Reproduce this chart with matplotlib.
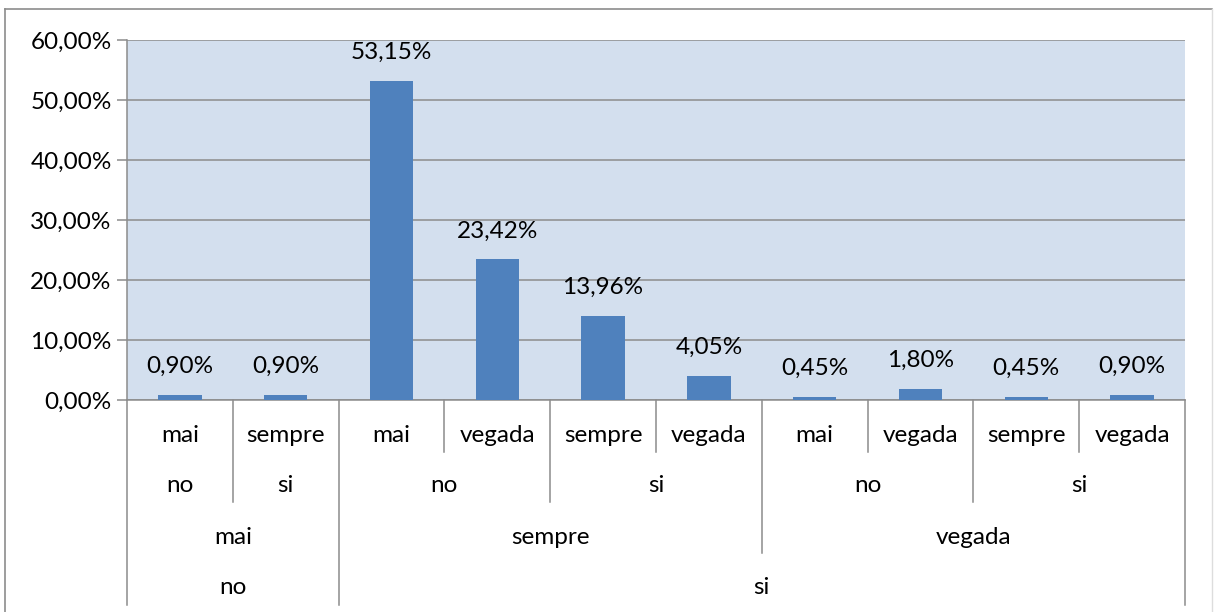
import matplotlib
matplotlib.use("Agg")
import matplotlib.pyplot as plt
from matplotlib.lines import Line2D
import matplotlib.transforms as mtransforms

plt.rcParams['font.family'] = ['Lato', 'DejaVu Sans']

# Data
level1 = ["mai", "sempre", "mai", "vegada", "sempre", "vegada", "mai", "vegada", "sempre", "vegada"]
level2 = ["no", "si", "no", "no", "si", "si", "no", "no", "si", "si"]
level3 = ["mai", "mai", "sempre", "sempre", "sempre", "sempre", "vegada", "vegada", "vegada", "vegada"]
level4 = ["no", "no", "si", "si", "si", "si", "si", "si", "si", "si"]
values = [0.90, 0.90, 53.15, 23.42, 13.96, 4.05, 0.45, 1.80, 0.45, 0.90]
yticks = [0, 10, 20, 30, 40, 50, 60]

W, H = 1214, 612
fig = plt.figure(figsize=(W / 100, H / 100), dpi=100)
ax = fig.add_axes([127 / W, 1 - 400 / H, (1185 - 127) / W, 360 / H])

ax.set_facecolor('#D3DFEE')
grid_c = '#8C8C8C'
fs = 17.5

n = len(values)
x = list(range(n))
ax.bar(x, values, width=0.41, color='#4F81BD', zorder=3)
ax.set_xlim(-0.5, n - 0.5)
ax.set_ylim(0, 60)
ax.set_yticks(yticks)
ax.set_yticklabels([f"{v:.2f}".replace('.', ',') + "%" for v in yticks], fontsize=fs)
ax.yaxis.grid(True, color=grid_c, linewidth=1.1, zorder=1)
ax.set_axisbelow(True)
ax.tick_params(axis='y', length=7, width=1.1, color=grid_c, pad=4)
ax.tick_params(axis='x', bottom=False, labelbottom=False)
for s in ['top', 'right']:
    ax.spines[s].set_visible(False)
ax.spines['left'].set_color(grid_c)
ax.spines['left'].set_linewidth(1.1)
ax.spines['bottom'].set_color(grid_c)
ax.spines['bottom'].set_linewidth(1.1)

# Data labels
for xi, v in zip(x, values):
    ax.annotate(f"{v:.2f}".replace('.', ',') + "%", (xi, v), xytext=(0, 13),
                textcoords='offset points', ha='center', va='bottom', fontsize=fs)

# Multi-level category axis
trans = mtransforms.blended_transform_factory(ax.transData, ax.transAxes)
row_bounds = [0, -52 / 360, -102 / 360, -153 / 360, -205 / 360]
row_text = [-36 / 360, -86 / 360, -137 / 360, -188 / 360]
levels = [level1, level2, level3, level4]

def keys(i, depth):
    return tuple(levels[d][i] for d in range(depth, 4))

# boundary lines
for b in range(n + 1):
    if b == 0 or b == n:
        depth = 4
    else:
        depth = 1
        for d in range(1, 4):
            if keys(b - 1, d) != keys(b, d):
                depth = d + 1
    bx = b - 0.5
    ax.add_line(Line2D([bx, bx], [0, row_bounds[depth]], transform=trans,
                       color=grid_c, linewidth=1.1, clip_on=False))

# group labels
for d, lev in enumerate(levels):
    i = 0
    while i < n:
        j = i
        while j + 1 < n and keys(j + 1, d) == keys(i, d):
            j += 1
        ax.text((i + j) / 2, row_text[d], lev[i], transform=trans, ha='center',
                va='center', fontsize=fs)
        i = j + 1

# outer chart border
fig.add_artist(Line2D([5 / W, 1212 / W], [1 - 9 / H, 1 - 9 / H], color='#8C8C8C', linewidth=1.2))
fig.add_artist(Line2D([5 / W, 5 / W], [1 - 9 / H, 0], color='#8C8C8C', linewidth=1.2))
fig.add_artist(Line2D([1212 / W, 1212 / W], [1 - 9 / H, 0], color='#DDDDDD', linewidth=1.0))

fig.savefig("out.png", dpi=100, facecolor='white')
